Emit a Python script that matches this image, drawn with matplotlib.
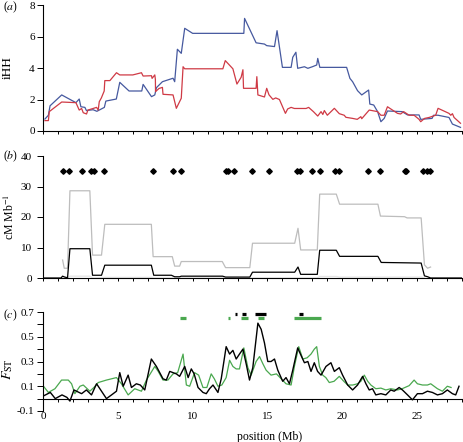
import matplotlib
matplotlib.use('Agg')
import matplotlib.pyplot as plt
from matplotlib.ticker import MultipleLocator

plt.rcParams['font.family'] = ['Liberation Serif', 'DejaVu Serif']
plt.rcParams['mathtext.fontset'] = 'stix'
plt.rcParams['font.size'] = 8

# ---- panel (a): iHH ----
blue_x = [0.13, 0.36, 0.47, 1.25, 2.2, 2.42, 2.53, 2.8, 2.9, 3.35, 3.6, 4.1, 4.2, 4.9, 5.13, 5.75,
          6.6, 6.69, 7.25, 7.47, 7.58, 7.98, 8.69, 8.8, 8.98, 9.24, 9.47, 10.0, 13.42, 13.47, 14.24,
          14.8, 14.95, 15.47, 15.64, 16.0, 16.58, 16.69, 16.9, 17.02, 17.47, 17.7, 18.0, 18.29, 18.36,
          18.5, 20.29, 20.51, 20.69, 21.02, 21.3, 21.76, 21.84, 22.1, 22.36, 22.58, 22.8, 23.02, 24.0,
          24.36, 25.13, 25.24, 26.0, 26.1, 26.4, 27.13, 27.36, 27.9]
blue_y = [0.76, 1.0, 1.6, 2.29, 1.8, 2.03, 1.54, 1.5, 1.3, 1.35, 1.25, 1.5, 1.9, 2.03, 3.09, 2.54,
          2.54, 2.96, 2.18, 2.29, 2.75, 3.13, 3.35, 3.13, 5.19, 4.93, 6.52, 6.2, 6.2, 7.15, 5.6,
          5.52, 5.42, 5.36, 6.37, 4.04, 4.04, 4.68, 5.0, 3.98, 4.08, 3.98, 4.08, 4.19, 4.61,
          4.04, 4.04, 3.34, 3.13, 2.56, 2.29, 2.6, 1.71, 1.65, 1.23, 0.59, 0.8, 1.27, 1.23,
          1.02, 1.02, 0.74, 0.8, 1.0, 1.0, 0.86, 0.44, 0.23]

red_x = [0.13, 0.36, 0.42, 1.25, 2.2, 2.42, 2.58, 2.69, 2.91, 3.0, 3.35, 3.58, 3.69, 3.76, 3.9, 4.09,
         4.13, 4.47, 4.91, 5.13, 6.0, 6.58, 6.69, 7.25, 7.29, 7.47, 7.51, 7.52, 7.75, 7.98, 8.02,
         8.69, 8.91, 9.24, 9.36, 9.47, 12.02, 12.18, 12.69, 12.96, 13.24, 13.36, 13.4, 14.24, 14.29,
         14.36, 14.8, 14.95, 15.1, 15.36, 15.55, 15.8, 16.2, 16.35, 16.58, 16.8, 17.58, 17.75, 18.07,
         18.36, 18.58, 18.7, 18.8, 19.0, 19.47, 19.8, 20.13, 20.24, 20.69, 21.0, 21.24, 21.3, 21.8,
         22.36, 22.58, 22.8, 23.02, 23.24, 23.69, 23.9, 24.1, 24.47, 24.8, 25.13, 25.24, 25.5, 25.8,
         26.24, 26.4, 27.13, 27.25, 27.36, 27.47, 27.9]
red_y = [0.66, 0.66, 1.23, 1.84, 1.8, 1.33, 1.43, 1.16, 1.08, 1.33, 1.43, 1.5, 1.33, 1.86, 2.1, 2.54,
         3.2, 3.2, 3.7, 3.56, 3.56, 3.7, 3.49, 3.51, 3.34, 3.56, 3.28, 2.5, 2.7, 2.77, 2.33,
         2.29, 1.44, 2.08, 4.08, 3.95, 3.95, 4.47, 3.95, 2.98, 3.41, 3.89, 2.71, 2.71, 3.45,
         2.29, 2.16, 2.71, 2.3, 2.01, 2.1, 2.0, 1.12, 1.4, 1.5, 1.43, 1.43, 1.5, 1.23,
         0.95, 1.23, 1.05, 1.3, 1.0, 1.44, 1.1, 1.0, 0.87, 0.8, 0.74, 0.91, 0.78, 1.33,
         1.23, 1.0, 1.0, 1.54, 1.4, 1.12, 1.08, 1.23, 1.0, 1.0, 0.74, 0.59, 0.8, 0.86,
         1.0, 1.44, 1.12, 1.0, 1.1, 0.86, 0.49]

# ---- panel (b): recombination (cM/Mb) ----
markers_x = [1.31, 1.73, 2.6, 3.2, 3.38, 4.09, 7.33, 8.69, 9.24, 12.2, 12.35, 12.78, 13.98, 15.11,
             16.98, 17.16, 17.98, 18.49, 19.49, 19.76, 21.69, 22.49, 24.16, 24.27, 25.42, 25.64, 25.87]

gray_x = [1.31, 1.42, 1.64, 1.8, 3.13, 3.31, 3.91, 4.13, 7.24, 7.36, 8.64, 8.8, 9.13, 9.24, 11.98,
          12.2, 13.82, 14.0, 16.82, 17.04, 17.22, 18.33, 18.49, 19.6, 19.82, 22.38, 22.55, 24.16,
          24.33, 25.27, 25.49, 25.7, 25.9]
gray_y = [5.9, 3.2, 3.2, 28.6, 28.6, 7.5, 7.5, 17.6, 17.6, 7.0, 7.0, 3.9, 3.9, 5.4, 5.4,
          3.4, 3.4, 11.4, 11.4, 16.3, 9.2, 9.2, 27.5, 27.5, 24.2, 24.2, 20.3, 20.1,
          19.7, 19.7, 4.3, 3.2, 3.6]

black_b_x = [0.0, 1.2, 1.31, 1.45, 1.64, 1.8, 3.13, 3.31, 3.91, 4.13, 7.24, 7.4, 8.58, 8.8, 9.13,
             9.24, 12.0, 12.2, 13.82, 14.0, 16.82, 17.04, 17.22, 18.33, 18.49, 19.6, 19.82, 22.38,
             22.6, 25.27, 25.49, 25.71, 25.9, 28.0]
black_b_y = [0.0, 0.0, 0.6, 0.3, 0.1, 9.6, 9.6, 0.9, 0.9, 4.2, 4.2, 0.9, 0.9, 0.4, 0.4,
             0.6, 0.6, 0.3, 0.3, 1.9, 1.9, 3.6, 1.2, 1.2, 9.1, 9.1, 7.1, 7.1,
             5.1, 4.9, 0.7, 0.4, 0.0, 0.0]

pale_x = [1.64, 1.8, 3.13, 3.31, 4.13, 7.24, 7.4, 18.33, 18.49, 19.6, 19.82, 25.27, 25.49]
pale_y = [0.0, 0.6, 0.6, 0.0, 0.2, 0.2, 0.0, 0.0, 0.5, 0.5, 0.3, 0.3, 0.0]

# ---- panel (c): FST ----
fst_black_x = [0.0, 0.49, 0.82, 1.27, 1.6, 1.8, 2.07, 2.58, 2.9, 3.24, 3.58, 3.91, 4.24, 4.58, 4.91,
               5.13, 5.36, 5.69, 5.91, 6.24, 6.5, 6.8, 7.24, 7.58, 8.02, 8.24, 8.47, 8.91, 9.13,
               9.47, 9.7, 9.91, 10.1, 10.36, 10.69, 10.91, 11.13, 11.36, 11.69, 11.91, 12.24, 12.47,
               12.69, 12.91, 13.13, 13.36, 13.58, 13.8, 14.02, 14.36, 14.58, 14.8, 15.02, 15.24, 15.47,
               15.69, 16.02, 16.24, 16.47, 16.69, 17.02, 17.24, 17.47, 17.7, 17.91, 18.13, 18.35, 18.58,
               18.91, 19.24, 19.47, 19.8, 20.02, 20.36, 20.69, 21.02, 21.36, 21.58, 21.8, 22.02, 22.24,
               22.58, 22.91, 23.24, 23.47, 23.8, 24.02, 24.36, 24.69, 25.02, 25.36, 25.69, 26.02,
               26.36, 26.69, 27.02, 27.36, 27.58, 27.8]
fst_black_y = [0.02, 0.05, 0.0, 0.03, 0.01, -0.02, 0.07, 0.04, 0.07, 0.03, 0.12, 0.06, 0.0, 0.03, 0.06,
               0.21, 0.1, 0.19, 0.09, 0.12, 0.11, 0.07, 0.32, 0.26, 0.16, 0.15, 0.22, 0.2, 0.18,
               0.26, 0.17, 0.24, 0.2, 0.09, 0.05, 0.04, 0.08, 0.11, 0.05, 0.16, 0.42, 0.36,
               0.39, 0.32, 0.36, 0.40, 0.28, 0.15, 0.25, 0.61, 0.56, 0.45, 0.30, 0.30, 0.32,
               0.23, 0.14, 0.17, 0.12, 0.23, 0.41, 0.35, 0.29, 0.30, 0.22, 0.29, 0.22, 0.19,
               0.26, 0.29, 0.22, 0.25, 0.19, 0.11, 0.07, 0.11, 0.18, 0.12, 0.07, 0.08, 0.03,
               0.04, 0.03, 0.07, 0.06, 0.09, 0.07, 0.03, -0.01, 0.04, 0.04, 0.06, 0.05,
               0.03, 0.04, 0.07, 0.04, 0.03, 0.10]

fst_green_x = [0.0, 0.36, 0.8, 1.24, 1.69, 1.91, 2.13, 2.47, 2.69, 3.13, 3.4, 3.69, 4.24, 4.91, 5.24,
               5.69, 6.13, 6.58, 6.91, 7.47, 7.7, 8.02, 8.35, 8.69, 9.0, 9.36, 9.58, 9.8, 10.13,
               10.4, 10.69, 10.95, 11.24, 11.45, 11.69, 11.95, 12.24, 12.47, 12.69, 12.91, 13.13,
               13.42, 13.69, 13.91, 14.24, 14.47, 14.7, 14.91, 15.24, 15.6, 16.0, 16.24, 16.58, 16.8,
               17.09, 17.36, 17.65, 17.91, 18.13, 18.29, 18.47, 18.69, 18.9, 19.13, 19.45, 19.8, 20.1,
               20.36, 20.7, 21.02, 21.24, 21.47, 21.7, 21.91, 22.24, 22.58, 22.91, 23.24, 23.69, 24.0,
               24.47, 24.8, 25.02, 25.36, 25.69, 25.91, 26.36, 26.69, 27.02, 27.27]
fst_green_y = [0.105, 0.05, 0.08, 0.15, 0.15, 0.12, 0.04, 0.1, 0.11, 0.06, 0.09, 0.13, 0.15, 0.17, 0.12,
               0.03, 0.08, 0.06, 0.15, 0.26, 0.22, 0.15, 0.15, 0.2, 0.21, 0.36, 0.11, 0.1, 0.21,
               0.19, 0.09, 0.09, 0.20, 0.16, 0.1, 0.11, 0.17, 0.31, 0.26, 0.24, 0.24,
               0.41, 0.25, 0.19, 0.3, 0.34, 0.28, 0.23, 0.19, 0.2, 0.15, 0.12, 0.11, 0.26,
               0.42, 0.32, 0.33, 0.36, 0.40, 0.42, 0.26, 0.19, 0.17, 0.13, 0.14, 0.18, 0.14,
               0.11, 0.11, 0.12, 0.14, 0.19, 0.14, 0.11, 0.08, 0.085, 0.07, 0.08, 0.07, 0.08,
               0.105, 0.15, 0.12, 0.11, 0.11, 0.12, 0.08, 0.06, 0.1, 0.09]

green_bars = [(9.13, 9.58), (12.36, 12.47), (13.2, 13.69), (14.4, 14.75), (16.8, 18.58)]
black_bars = [(12.8, 12.95), (13.31, 13.58), (14.2, 14.87), (17.09, 17.36)]

BLUE = '#46599f'
RED = '#cf3a45'
GREEN = '#4aa84f'
GRAY = '#bdbdbd'
PALE = '#e4e4e4'

W, H = 464, 442
fig = plt.figure(figsize=(W / 100, H / 100), dpi=100)


def box(top, bottom, left=43, right=462):
    return [left / W, 1 - bottom / H, (right - left) / W, (bottom - top) / H]


def style(ax):
    for s in ['top', 'right']:
        ax.spines[s].set_visible(False)
    for s in ['left', 'bottom']:
        ax.spines[s].set_linewidth(0.8)
    ax.tick_params(which='both', direction='out', width=0.7, pad=2)
    ax.tick_params(axis='y', which='major', length=4)
    ax.tick_params(axis='x', which='both', length=2.5)
    ax.set_xlim(0, 28)


# (a)
ax1 = fig.add_axes(box(5, 131))
style(ax1)
ax1.plot(blue_x, blue_y, color=BLUE, lw=0.9)
ax1.plot(red_x, red_y, color=RED, lw=0.9)
ax1.set_ylim(0, 8)
ax1.set_yticks([0, 2, 4, 6, 8])
ax1.xaxis.set_major_locator(MultipleLocator(1))
ax1.set_xticklabels([])
ax1.set_ylabel('iHH', fontsize=9.5)
ax1.yaxis.set_label_coords(-0.07, 0.5)
fig.text(3 / W, 1 - 7 / H, '($a$)', fontsize=8.5, va='center', ha='left')

# (b)
ax2 = fig.add_axes(box(156, 278))
style(ax2)
ax2.plot(pale_x, pale_y, color=PALE, lw=0.9)
ax2.plot(gray_x, gray_y, color=GRAY, lw=0.9)
ax2.plot(black_b_x, black_b_y, color='black', lw=0.9)
ax2.plot(markers_x, [35] * len(markers_x), ls='none', marker='D', ms=2.8, color='black')
ax2.set_ylim(0, 40)
ax2.set_yticks([0, 10, 20, 30, 40])
ax2.tick_params(axis='y', pad=4)
ax2.xaxis.set_major_locator(MultipleLocator(1))
ax2.set_xticklabels([])
ax2.set_ylabel('cM Mb$^{-1}$', fontsize=8.5)
ax2.yaxis.set_label_coords(-0.062, 0.5)
fig.text(3 / W, 1 - 156 / H, '($b$)', fontsize=8.5, va='center', ha='left')

# (c)
ax3 = fig.add_axes(box(312, 411))
style(ax3)
ax3.plot(fst_green_x, fst_green_y, color=GREEN, lw=0.9)
ax3.plot(fst_black_x, fst_black_y, color='black', lw=1.0)
for a, b in green_bars:
    ax3.plot([a, b], [0.65, 0.65], color=GREEN, lw=2.3, solid_capstyle='butt')
for a, b in black_bars:
    ax3.plot([a, b], [0.685, 0.685], color='black', lw=2.3, solid_capstyle='butt')
ax3.set_ylim(-0.1, 0.7)
ax3.set_yticks([-0.1, 0.1, 0.3, 0.5, 0.7])
ax3.set_yticklabels(['-0.1', '0.1', '0.3', '0.5', '0.7'])
ax3.yaxis.set_minor_locator(MultipleLocator(0.1))
ax3.tick_params(axis='y', which='minor', length=4)
ax3.spines['bottom'].set_position(('data', 0))
ax3.set_xticks([0, 5, 10, 15, 20, 25])
ax3.xaxis.set_minor_locator(MultipleLocator(1))
ax3.tick_params(axis='x', which='major', pad=7)
ax3.set_xlabel('position (Mb)', fontsize=8.5)
ax3.xaxis.set_label_coords(0.54, -0.2)
ax3.set_ylabel(r'$F_{\mathrm{ST}}$', fontsize=10)
ax3.yaxis.set_label_coords(-0.068, 0.42)
fig.text(3 / W, 1 - 315 / H, '($c$)', fontsize=8.5, va='center', ha='left')

fig.savefig('out.png', dpi=100)
